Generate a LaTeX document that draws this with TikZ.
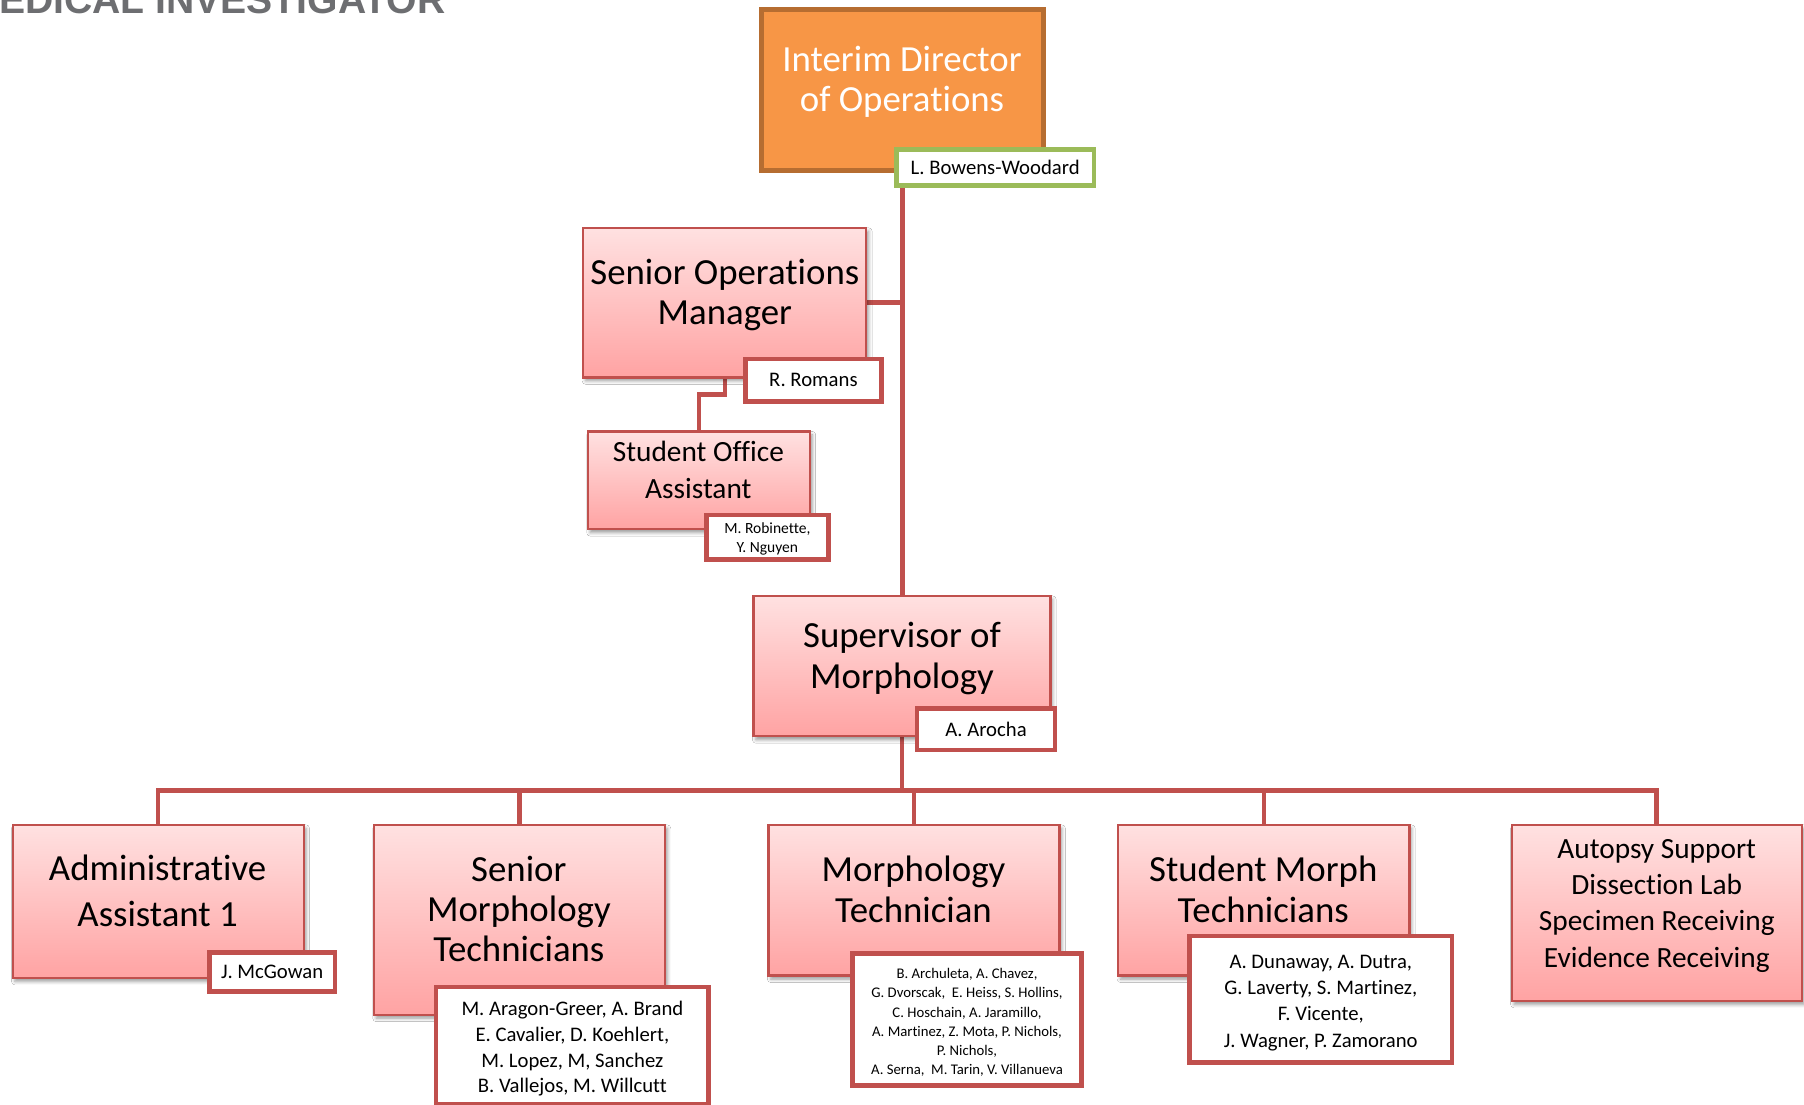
\documentclass[tikz,border=0pt]{standalone}
\usepackage{fontspec}
\setmainfont{Carlito}[Ligatures=NoCommon]
\newfontfamily\titlefont{Liberation Sans}
\usetikzlibrary{shadows.blur}
\definecolor{lineRed}{HTML}{C0504D}
\definecolor{pinkTop}{HTML}{FFE1E1}
\definecolor{pinkBot}{HTML}{FFA3A3}
\definecolor{orgFill}{HTML}{F79646}
\definecolor{orgLine}{HTML}{B66D31}
\definecolor{tagGreen}{HTML}{9BBB59}
\definecolor{titleGray}{HTML}{6D6E71}
\newcommand\upgap[1]{\rule{0pt}{\dimexpr\ht\strutbox+#1\relax}}
\pgfdeclarelayer{connlayer}
\pgfsetlayers{connlayer,main}
\begin{document}
\begin{tikzpicture}[x=1pt,y=-1pt,
  pinkbox/.style={draw=lineRed, line width=2pt, top color=pinkTop, bottom color=pinkBot,
    blur shadow={shadow xshift=2pt, shadow yshift=-3pt, shadow blur radius=3pt, shadow opacity=40},
    inner sep=0pt, outer sep=0pt},
  orgbox/.style={draw=orgLine, line width=4pt, fill=orgFill, inner sep=0pt, outer sep=0pt},
  tagbox/.style={draw=lineRed, line width=4pt, fill=white, inner sep=0pt, outer sep=0pt, align=center},
  greentag/.style={tagbox, draw=tagGreen},
  conn/.style={draw=lineRed, line width=4pt},
  bigtxt/.style={align=center, inner sep=0pt, font=\fontsize{32}{35}\selectfont},
  midtxt/.style={align=center, inner sep=0pt, font=\fontsize{25.5}{32}\selectfont},
  tagtxt/.style={font=\fontsize{18}{22.5}\selectfont},
]
\useasboundingbox (0,0) rectangle (1568,960);

% title (cut off by the page edge, as in the reference)
\node[anchor=base west, inner sep=0pt, text=titleGray,
      font=\titlefont\bfseries\fontsize{34}{40}\selectfont] (title) at (-1,12) {EDICAL INVESTIGATOR};

% boxes
\coordinate (busY) at (0,687);
\path
  (784.5,78)  node[orgbox,  minimum width=245pt, minimum height=140pt] (dir) {}
  (630,263)   node[pinkbox, minimum width=246pt, minimum height=130pt] (som) {}
  (607.5,417.5) node[pinkbox, minimum width=193pt, minimum height=85pt] (soa) {}
  (784,579)   node[pinkbox, minimum width=258pt, minimum height=122pt] (sup) {}
  (137.5,783.5) node[pinkbox, minimum width=253pt, minimum height=133pt] (aa) {}
  (451.5,799.5) node[pinkbox, minimum width=253pt, minimum height=165pt] (smt) {}
  (794.5,782.5) node[pinkbox, minimum width=253pt, minimum height=131pt] (mt) {}
  (1098.5,782.5) node[pinkbox, minimum width=253pt, minimum height=131pt] (stm) {}
  (1440,793.5) node[pinkbox, minimum width=252pt, minimum height=153pt] (aps) {};

% white paper and connectors (behind the boxes)
\begin{pgfonlayer}{connlayer}
\fill[white] (0,0) rectangle (1568,960);
\draw[conn] (dir.south) -- (dir.south |- sup.north);
\draw[conn] (som.east) -- (som.east -| dir.south);
\draw[conn] (som.south) -- ++(0,15) -| (soa.north);
\foreach \c in {aa,smt,mt,stm,aps}
  \draw[conn] (sup.south) -- (sup.south |- busY) -| (\c.north);
\end{pgfonlayer}

% box texts
\node[bigtxt, text=white] (dirT) at (784,72.5) {\strut Interim Director\\of Operations\strut};
\node[bigtxt] (somT) at (630,257.5) {\strut Senior Operations\\Manager\strut};
\node[midtxt] (soaT) at (607,411) {\strut Student Office\\Assistant\strut};
\node[bigtxt] (supT) at (784,573.5) {\strut Supervisor of\\Morphology\strut};
\node[align=center, inner sep=0pt, font=\fontsize{32}{40}\selectfont] (aaT) at (137,777) {\strut Administrative\\Assistant 1\strut};
\node[bigtxt] (smtT) at (451,794) {\strut Senior\\Morphology\\Technicians\strut};
\node[bigtxt] (mtT) at (794,777) {\strut Morphology\\Technician\strut};
\node[bigtxt] (stmT) at (1098,777) {\strut Student Morph\\Technicians\strut};
\node[align=center, inner sep=0pt, font=\fontsize{25.5}{31.7}\selectfont] (apsT) at (1440,787)
  {\strut Autopsy Support\\Dissection Lab\\Specimen Receiving\\Evidence Receiving\strut};

% name tags
\node[greentag, tagtxt, minimum width=172pt, minimum height=31pt] (dirTag) at (865,145.5) {L. Bowens-Woodard};
\node[tagbox, tagtxt, minimum width=118pt, minimum height=37pt] (somTag) at (707,330.5) {R. Romans};
\node[tagbox, font=\fontsize{13.5}{17}\selectfont, minimum width=106pt, minimum height=39pt] (soaTag) at (667,467)
  {\upgap{3pt}M. Robinette,\\Y. Nguyen\strut};
\node[tagbox, tagtxt, minimum width=120pt, minimum height=36pt] (supTag) at (857,634) {A. Arocha};
\node[tagbox, tagtxt, minimum width=109pt, minimum height=34pt] (aaTag) at (236.5,845) {J. McGowan};
\node[tagbox, font=\fontsize{18}{22.3}\selectfont, minimum width=237pt, minimum height=102pt] (smtTag) at (497.5,909)
  {\upgap{6pt}M. Aragon-Greer, A. Brand\\E. Cavalier, D. Koehlert,\\M. Lopez, M, Sanchez\\B. Vallejos, M. Willcutt\strut};
\node[tagbox, font=\fontsize{12.8}{16.6}\selectfont, minimum width=199pt, minimum height=115pt] (mtTag) at (840.5,886)
  {\upgap{6pt}B. Archuleta, A. Chavez,\\G. Dvorscak,\ \ E. Heiss, S. Hollins,\\C. Hoschain, A. Jaramillo,\\A. Martinez, Z. Mota, P. Nichols,\\P. Nichols,\\A. Serna,\ \ M. Tarin, V. Villanueva\strut};
\node[tagbox, font=\fontsize{18}{22.7}\selectfont, minimum width=228pt, minimum height=110pt] (stmTag) at (1148,868.5)
  {\upgap{6pt}A. Dunaway, A. Dutra,\\G. Laverty, S. Martinez,\\F. Vicente,\\J. Wagner, P. Zamorano\strut};
\end{tikzpicture}
\end{document}
